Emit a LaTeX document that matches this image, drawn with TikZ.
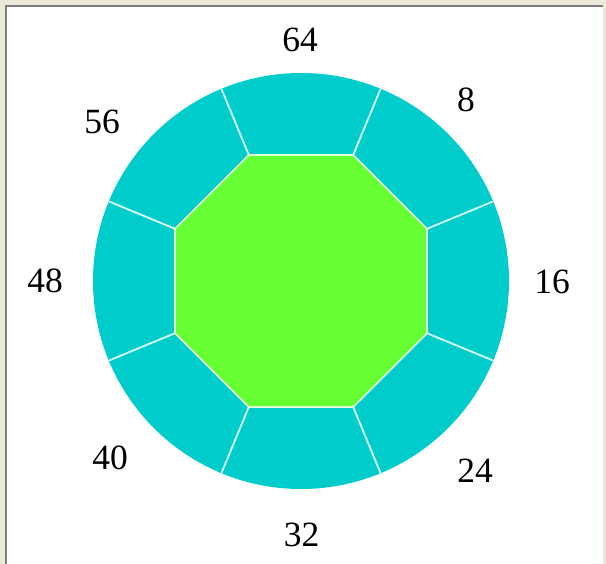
\documentclass[tikz,border=0pt]{standalone}
\usepackage{fontspec}
\setmainfont{Liberation Serif}
\usetikzlibrary{calc}
\definecolor{cy}{RGB}{0,204,204}
\definecolor{gr}{RGB}{102,255,51}
\definecolor{pale}{RGB}{225,255,215}
\definecolor{spokec}{RGB}{215,255,255}
\definecolor{beige}{RGB}{236,233,216}
\definecolor{framegray}{RGB}{125,125,125}
\tikzset{
  lbl/.style={inner sep=0pt, font=\fontsize{35.5}{40}\selectfont, text=black},
  spoke/.style={draw=spokec, line width=1.8pt},
  ring/.style={fill=cy},
  core/.style={fill=gr, draw=pale, line width=1.6pt, line join=miter},
}
\begin{document}
\begin{tikzpicture}[x=1pt,y=1pt]
\useasboundingbox (0,0) rectangle (606,-564);
% frame
\fill[beige] (0,0) rectangle (606,-564);
\fill[white] (6,-6) rectangle (603,-564);
\draw[framegray, line width=2.4pt] (6.2,-564) -- (6.2,-6.2) -- (603,-6.2);
% ring
\coordinate (c) at (301,-281);
\fill[ring] (c) circle (208);
\foreach \a in {22.5,67.5,...,337.5}
  \draw[spoke] ([shift={(\a:136.4)}]c) -- ([shift={(\a:207.5)}]c);
% octagon
\filldraw[core] ([shift={(22.5:136.4)}]c)
  \foreach \a in {67.5,112.5,...,337.5} { -- ([shift={(\a:136.4)}]c) } -- cycle;
% labels
\node[lbl] (l64) at (300,-40) {64};
\node[lbl] (l8)  at (466,-100) {8};
\node[lbl] (l16) at (552,-282) {16};
\node[lbl] (l24) at (475,-471) {24};
\node[lbl] (l32) at (301.5,-535) {32};
\node[lbl] (l40) at (110,-458) {40};
\node[lbl] (l48) at (45,-281) {48};
\node[lbl] (l56) at (102,-122) {56};
\end{tikzpicture}
\end{document}
